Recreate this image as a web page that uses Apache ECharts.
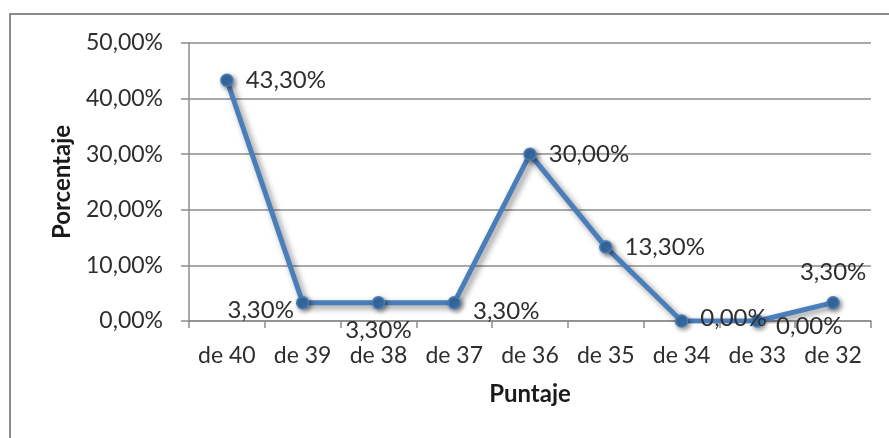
<!DOCTYPE html>
<html>
<head>
<meta charset="utf-8">
<script src="https://cdn.jsdelivr.net/npm/echarts@6/dist/echarts.min.js"></script>
<style>
  html, body { margin: 0; padding: 0; background: #fff; }
  #chart { width: 889px; height: 438px; }
</style>
</head>
<body>
<div id="chart"></div>
<script>
// categories and values
var categories = ['de 40', 'de 39', 'de 38', 'de 37', 'de 36', 'de 35', 'de 34', 'de 33', 'de 32'];
var values = [43.3, 3.3, 3.3, 3.3, 30.0, 13.3, 0.0, 0.0, 3.3];
var yTicks = [0, 10, 20, 30, 40, 50];

// where each data label sits (style only)
var labelPos = ['right', 'left', 'bottom', 'right', 'right', 'right', 'right', 'right', 'top'];
var labelShift = [[0, 0], [10, 8], [0, -3], [0, 9], [0, 0], [0, 0], [0, -3], [0, 5], [0, 0]];

var pct = function (v) {
  return v.toFixed(2).replace('.', ',') + '%';
};

var textColor = '#2e2e2e';
var font = 'Lato, "DejaVu Sans", sans-serif';

var chart = echarts.init(document.getElementById('chart'));

chart.setOption({
  animation: false,
  textStyle: { fontFamily: font },
  graphic: [
    {
      type: 'rect',
      shape: { x: 10, y: 14, width: 900, height: 440 },
      style: { fill: 'none', stroke: '#8c8c8c', lineWidth: 2 },
      z: -1,
    },
  ],
  grid: {
    left: 189,
    right: 18,
    top: 43,
    bottom: 117,
  },
  xAxis: {
    type: 'category',
    data: categories,
    boundaryGap: true,
    name: 'Puntaje',
    nameLocation: 'middle',
    nameGap: 61,
    nameTextStyle: { color: '#1a1a1a', fontSize: 24, fontWeight: 'bold', fontFamily: font },
    axisLine: { lineStyle: { color: '#8c8c8c', width: 1.5 } },
    axisTick: { show: true, length: 7, lineStyle: { color: '#8c8c8c', width: 1.5 } },
    axisLabel: { color: textColor, fontSize: 23, margin: 23, interval: 0, hideOverlap: false, fontFamily: font },
  },
  yAxis: {
    type: 'value',
    min: yTicks[0],
    max: yTicks[yTicks.length - 1],
    interval: 10,
    name: 'Porcentaje',
    nameLocation: 'middle',
    nameGap: 115,
    nameRotate: 90,
    nameTextStyle: { color: '#1a1a1a', fontSize: 24, fontWeight: 'bold', fontFamily: font },
    axisLine: { show: true, lineStyle: { color: '#8c8c8c', width: 1.5 } },
    axisTick: { show: true, length: 8, lineStyle: { color: '#8c8c8c', width: 1.5 } },
    axisLabel: {
      color: textColor,
      fontSize: 23,
      margin: 26,
      fontFamily: font,
      formatter: function (v) { return pct(v); },
    },
    splitLine: { show: true, lineStyle: { color: '#8c8c8c', width: 1.5 } },
  },
  series: [
    {
      type: 'line',
      data: values.map(function (v, i) {
        return {
          value: v,
          label: { position: labelPos[i], offset: labelShift[i] },
        };
      }),
      symbol: 'circle',
      symbolSize: 12,
      lineStyle: {
        color: '#4a7ebb',
        width: 5,
        shadowColor: 'rgba(0,0,0,0.45)',
        shadowBlur: 6,
        shadowOffsetX: 3,
        shadowOffsetY: 3,
      },
      itemStyle: {
        color: '#3a6ea5',
        borderColor: '#4a7ebb',
        borderWidth: 1.5,
        shadowColor: 'rgba(0,0,0,0.45)',
        shadowBlur: 5,
        shadowOffsetX: 2,
        shadowOffsetY: 2,
      },
      label: {
        show: true,
        color: textColor,
        fontSize: 24,
        fontFamily: font,
        distance: 12,
        formatter: function (p) { return pct(p.value); },
      },
      z: 3,
    },
  ],
});
</script>
</body>
</html>
